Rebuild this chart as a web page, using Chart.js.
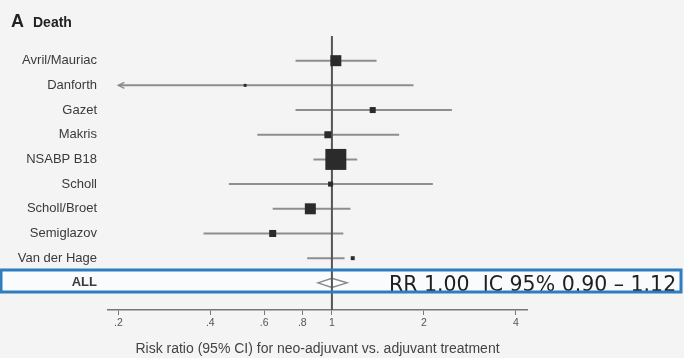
<!DOCTYPE html>
<html>
<head>
<meta charset="utf-8">
<script src="https://cdn.jsdelivr.net/npm/chart.js@4.4.1/dist/chart.umd.min.js"></script>
<style>
  html, body { margin: 0; padding: 0; background: #f4f4f4; }
  #wrap { width: 684px; height: 358px; position: relative; }
</style>
</head>
<body>
<div id="wrap"><canvas id="c"></canvas></div>
<script>
// ---- data ----
const studies = ['Avril/Mauriac', 'Danforth', 'Gazet', 'Makris', 'NSABP B18', 'Scholl', 'Scholl/Broet', 'Semiglazov', 'Van der Hage', 'ALL'];
const riskRatio = [1.03, 0.52, 1.36, 0.97, 1.03, 0.99, 0.85, 0.64, 1.17, 1.00];
const ciLow     = [0.76, 0.15, 0.76, 0.57, 0.87, 0.46, 0.64, 0.38, 0.83, 0.90];
const ciHigh    = [1.40, 1.85, 2.47, 1.66, 1.21, 2.14, 1.15, 1.09, 1.10, 1.12];
const weights   = [14.0, 1.0, 4.2, 5.7, 50.9, 2.9, 14.0, 5.7, 1.8]; // % weight of each study
const xTicks      = [0.2, 0.4, 0.6, 0.8, 1, 2, 4];
const xTickLabels = ['.2', '.4', '.6', '.8', '1', '2', '4'];
const summaryText = 'RR 1.00  IC 95% 0.90 \u2013 1.12';
const axisTitle   = 'Risk ratio (95% CI) for neo-adjuvant vs. adjuvant treatment';

// ---- build datasets ----
const X_MIN = 0.185, X_MAX = 4.35, ARROW_AT = 0.2;
const nStudies = weights.length;
const allIdx = studies.length - 1;
const FONT = '"Liberation Sans", Arial, sans-serif';

const whiskers = [];
for (let i = 0; i < nStudies; i++) {
  whiskers.push({
    type: 'scatter', showLine: true, order: 3,
    data: [{ x: Math.max(ciLow[i], ARROW_AT), y: i }, { x: ciHigh[i], y: i }],
    borderColor: '#8e8e8e', borderWidth: 2, pointRadius: 0
  });
}
const refLine = {
  type: 'scatter', showLine: true, order: 2,
  data: [{ x: 1, y: -1 }, { x: 1, y: 10.1 }],
  borderColor: '#555555', borderWidth: 2, pointRadius: 0
};
const boxes = {
  type: 'scatter', order: 1,
  data: riskRatio.slice(0, nStudies).map((v, i) => ({ x: v, y: i })),
  pointStyle: 'rect',
  pointRadius: weights.map(w => (2.94 * Math.sqrt(w)) / 1.414),
  backgroundColor: '#2b2b2b', borderColor: '#2b2b2b', borderWidth: 0
};

const decor = {
  id: 'decor',
  beforeDraw(chart) {
    const ctx = chart.ctx;
    ctx.save();
    ctx.fillStyle = '#f4f4f4';
    ctx.fillRect(0, 0, chart.width, chart.height);
    ctx.fillStyle = '#f9fbfd';
    ctx.fillRect(1, 270, 680, 22);
    ctx.restore();
  },
  beforeDatasetsDraw(chart) {
    const ctx = chart.ctx, xs = chart.scales.x, ys = chart.scales.y;
    const x0 = xs.getPixelForValue(ciLow[allIdx]);
    const xc = xs.getPixelForValue(riskRatio[allIdx]);
    const x1 = xs.getPixelForValue(ciHigh[allIdx]);
    const y = ys.getPixelForValue(allIdx);
    ctx.save();
    ctx.beginPath();
    ctx.moveTo(x0, y); ctx.lineTo(xc, y - 4.5); ctx.lineTo(x1, y); ctx.lineTo(xc, y + 4.5); ctx.closePath();
    ctx.fillStyle = '#ffffff'; ctx.fill();
    ctx.strokeStyle = '#8a8a8a'; ctx.lineWidth = 1.5; ctx.stroke();
    ctx.restore();
  },
  afterDatasetsDraw(chart) {
    const ctx = chart.ctx, xs = chart.scales.x, ys = chart.scales.y;
    ctx.save();
    ctx.strokeStyle = '#8e8e8e'; ctx.lineWidth = 1.5;
    for (let i = 0; i < nStudies; i++) {
      if (ciLow[i] < ARROW_AT) {
        const xt = xs.getPixelForValue(ARROW_AT), y = ys.getPixelForValue(i);
        ctx.beginPath();
        ctx.moveTo(xt + 6, y - 3); ctx.lineTo(xt, y); ctx.lineTo(xt + 6, y + 3);
        ctx.stroke();
      }
    }
    ctx.restore();
  },
  afterDraw(chart) {
    const ctx = chart.ctx;
    ctx.save();
    // panel title
    ctx.fillStyle = '#222';
    ctx.textBaseline = 'alphabetic';
    ctx.font = 'bold 18px ' + FONT;
    ctx.fillText('A', 11, 27);
    ctx.font = 'bold 14px ' + FONT;
    ctx.fillText('Death', 33, 27);
    // summary
    ctx.font = '20.5px "DejaVu Sans", sans-serif';
    ctx.fillStyle = '#1f1f1f';
    ctx.fillText(summaryText, 389, 291);
    ctx.strokeStyle = '#2f7cbf';
    ctx.lineWidth = 3;
    ctx.strokeRect(1, 270, 680, 22);
    ctx.restore();
  }
};

new Chart(document.getElementById('c'), {
  data: { datasets: [boxes, refLine, ...whiskers] },
  options: {
    responsive: true, maintainAspectRatio: false, animation: false,
    layout: { padding: { top: 36, left: 0, right: 157, bottom: 0 } },
    plugins: { legend: { display: false }, tooltip: { enabled: false } },
    scales: {
      x: {
        type: 'logarithmic', min: X_MIN, max: X_MAX,
        afterBuildTicks: s => { s.ticks = xTicks.map(v => ({ value: v })); },
        afterFit: s => { s.height = 48; },
        ticks: {
          autoSkip: false, maxRotation: 0, padding: 2, color: '#555',
          font: { family: FONT, size: 10.5 },
          callback: v => xTickLabels[xTicks.indexOf(v)]
        },
        grid: { display: true, drawOnChartArea: false, drawTicks: true, tickLength: 5, color: '#777', lineWidth: 1 },
        border: { display: true, color: '#777', width: 1.5 },
        title: {
          display: true, text: axisTitle, color: '#444',
          font: { family: FONT, size: 14 },
          padding: { top: 2, bottom: 0 }
        }
      },
      y: {
        type: 'linear', reverse: true, min: -1, max: 10.1,
        afterBuildTicks: s => { s.ticks = studies.map((_, i) => ({ value: i })); },
        afterFit: s => { s.width = 108; },
        ticks: {
          autoSkip: false, padding: 11, color: '#3a3a3a',
          font: c => ({ family: FONT, size: 13,
                        weight: (c.tick && c.tick.value === allIdx) ? 'bold' : 'normal' }),
          callback: v => studies[v]
        },
        grid: { display: false, drawTicks: false },
        border: { display: false }
      }
    }
  },
  plugins: [decor]
});
</script>
</body>
</html>
